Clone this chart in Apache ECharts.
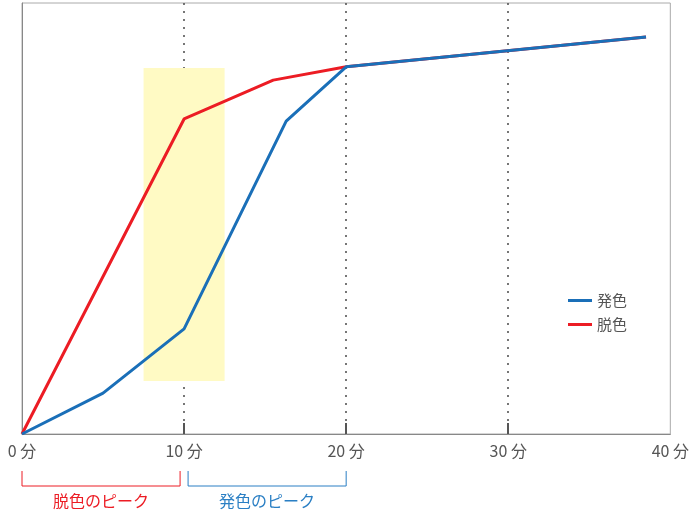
<!DOCTYPE html>
<html><head><meta charset="utf-8">
<script src="https://cdn.jsdelivr.net/npm/echarts@6/dist/echarts.min.js"></script>
<style>html,body{margin:0;padding:0;background:#fff}#c{width:692px;height:513px}</style>
</head><body><div id="c"></div>
<script>
const xTicks = [0, 10, 20, 30, 40];
const tickSuffix = ' 分';
const hasshokuName = '発色';
const dasshokuName = '脱色';
const hasshoku = [[0, 0], [5, 9.5], [10, 24.4], [16.3, 72.6], [20, 85.2], [38.5, 92.1]];
const dasshoku = [[0, 0], [10, 73.1], [15.5, 82.1], [20, 85.2], [38.5, 92.1]];
const highlight = [[7.5, 12.3], [12.5, 84.9]];
const brackets = [[0, 10, '脱色のピーク', 'red'], [10, 20, '発色のピーク', 'blue']];

const FONT = '"Noto Sans CJK JP", "Noto Sans", sans-serif';
const BLUE = '#1a6fb8', RED = '#ec1c24';
const chart = echarts.init(document.getElementById('c'), null, {renderer: 'canvas'});
chart.setOption({
  animation: false,
  textStyle: {fontFamily: FONT},
  grid: {left: 22, right: 20, top: 3, bottom: 79, show: true, borderColor: '#aaa', borderWidth: 1},
  legend: {
    orient: 'vertical', left: 563, top: 288, itemGap: 9,
    itemWidth: 24, itemHeight: 3, icon: 'rect',
    data: [hasshokuName, dasshokuName],
    textStyle: {color: '#555', fontSize: 15, fontFamily: FONT}
  },
  xAxis: {
    type: 'value', min: xTicks[0], max: xTicks[xTicks.length - 1], interval: 10,
    axisLine: {show: true, lineStyle: {color: '#888', width: 1}},
    axisTick: {show: true, inside: true, length: 11, customValues: xTicks.slice(1, -1), lineStyle: {color: '#555', width: 2}},
    axisLabel: {color: '#555', fontSize: 16, margin: 9, formatter: v => v + tickSuffix, fontFamily: FONT},
    splitLine: {show: true, lineStyle: {color: '#555', type: [2, 6], width: 1.6}}
  },
  yAxis: {
    type: 'value', min: 0, max: 100,
    axisLine: {show: true, lineStyle: {color: '#888', width: 1}},
    axisTick: {show: false}, axisLabel: {show: false}, splitLine: {show: false}
  },
  series: [
    {
      name: dasshokuName, type: 'line', data: dasshoku, symbol: 'none', z: 3,
      lineStyle: {color: RED, width: 3}, itemStyle: {color: RED},
      markArea: {silent: true, itemStyle: {color: '#fffac4'}, data: [[{coord: highlight[0]}, {coord: highlight[1]}]], z: 1}
    },
    {
      name: hasshokuName, type: 'line', data: hasshoku, symbol: 'none', z: 4,
      lineStyle: {color: BLUE, width: 3}, itemStyle: {color: BLUE}
    },
    {
      type: 'custom', clip: false, silent: true, z: 5,
      data: brackets,
      renderItem: function (params, api) {
        const d = brackets[params.dataIndex];
        const col = d[3] === 'red' ? RED : '#2a7fc4';
        let x0 = api.coord([d[0], 0])[0];
        let x1 = api.coord([d[1], 0])[0];
        const yb = api.coord([0, 0])[1];
        if (d[0] !== 0) x0 += 4;
        if (d[1] === 10) x1 -= 4;
        const yt = yb + 37, yB = yb + 52;
        return {
          type: 'group',
          children: [
            {type: 'polyline', shape: {points: [[x0, yt], [x0, yB], [x1, yB], [x1, yt]]}, style: {stroke: col, lineWidth: 1, fill: null}},
            {type: 'text', style: {text: d[2], x: (x0 + x1) / 2, y: yB + 15, align: 'center', verticalAlign: 'middle', fill: col, fontSize: 16, fontFamily: FONT}}
          ]
        };
      }
    }
  ]
});
</script></body></html>
